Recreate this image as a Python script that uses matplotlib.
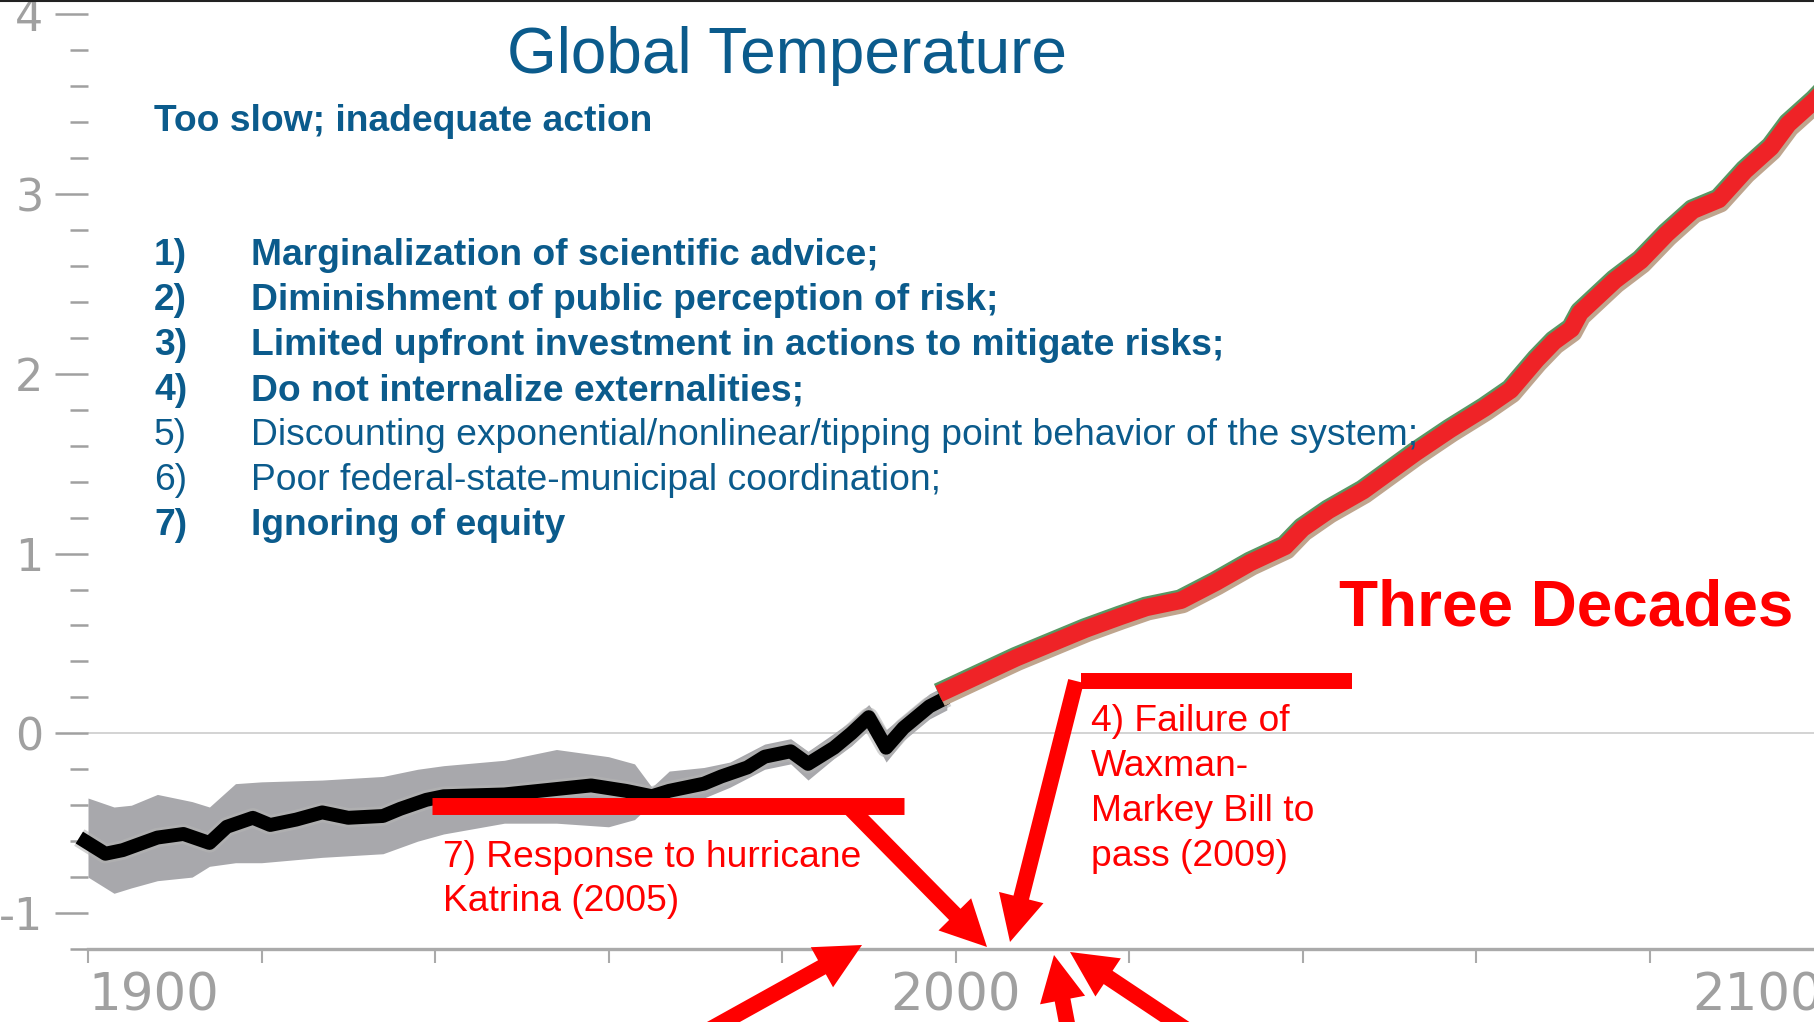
import matplotlib
matplotlib.use("Agg")
import matplotlib.pyplot as plt
import matplotlib.patheffects as pe
from matplotlib.patches import FancyArrowPatch
from matplotlib.lines import Line2D
from matplotlib.ticker import MultipleLocator

W, H = 1815, 1022

# observed global temperature (black curve)
hist_years = [1899, 1902, 1904, 1908, 1911, 1914, 1916, 1919, 1921, 1924, 1927,
              1930, 1934, 1936, 1939, 1941, 1948, 1952, 1958, 1962, 1965, 1967,
              1971, 1973, 1976, 1978, 1981, 1983, 1986, 1988, 1990, 1992, 1994,
              1997, 1999]
hist_temp = [-0.58, -0.67, -0.65, -0.58, -0.56, -0.61, -0.52, -0.47, -0.51, -0.48,
             -0.44, -0.47, -0.46, -0.42, -0.37, -0.35, -0.34, -0.32, -0.29, -0.32,
             -0.35, -0.32, -0.28, -0.24, -0.19, -0.13, -0.10, -0.17, -0.08, 0.00,
             0.09, -0.08, 0.03, 0.15, 0.20]

# grey uncertainty band
band_years = [1900, 1903, 1905, 1908, 1912, 1914, 1917, 1920, 1927, 1934, 1938,
              1941, 1948, 1954, 1960, 1963, 1965, 1967, 1971, 1974, 1978, 1981,
              1983, 1986, 1988, 1990, 1992, 1994, 1997, 1999]
band_low = [-0.80, -0.89, -0.86, -0.82, -0.80, -0.74, -0.72, -0.72, -0.69, -0.67,
            -0.60, -0.56, -0.50, -0.50, -0.52, -0.48, -0.39, -0.40, -0.36, -0.30,
            -0.20, -0.17, -0.26, -0.14, -0.07, 0.02, -0.16, -0.04, 0.08, 0.13]
band_high = [-0.36, -0.41, -0.40, -0.34, -0.38, -0.41, -0.28, -0.27, -0.26, -0.24,
             -0.20, -0.18, -0.15, -0.09, -0.13, -0.17, -0.30, -0.21, -0.19, -0.16,
             -0.06, -0.03, -0.10, 0.00, 0.07, 0.16, 0.02, 0.10, 0.22, 0.27]

# projection (red curve)
proj_years = [1999, 2003, 2007, 2011, 2015, 2019, 2022, 2026, 2030, 2034, 2038,
              2040, 2043, 2047, 2049, 2053, 2057, 2061, 2064, 2067, 2069, 2071,
              2072, 2076, 2079, 2082, 2085, 2088, 2091, 2094, 2096, 2099, 2101]
proj_temp = [0.24, 0.33, 0.42, 0.50, 0.58, 0.65, 0.70, 0.74, 0.84, 0.95, 1.04,
             1.14, 1.24, 1.35, 1.42, 1.56, 1.69, 1.81, 1.91, 2.08, 2.18, 2.25,
             2.34, 2.52, 2.63, 2.78, 2.91, 2.97, 3.13, 3.26, 3.39, 3.52, 3.62]

x_ticks = [1900, 1920, 1940, 1960, 1980, 2000, 2020, 2040, 2060, 2080, 2100]
x_labels = ["1900", "", "", "", "", "2000", "", "", "", "", "2100"]

title = "Global Temperature"
subtitle = "Too slow; inadequate action"
items = [
    ("1)", "Marginalization of scientific advice;", True),
    ("2)", "Diminishment of public perception of risk;", True),
    ("3)", "Limited upfront investment in actions to mitigate risks;", True),
    ("4)", "Do not internalize externalities;", True),
    ("5)", "Discounting exponential/nonlinear/tipping point behavior of the system;", False),
    ("6)", "Poor federal-state-municipal coordination;", False),
    ("7)", "Ignoring of equity", True),
]
note_waxman = ["4) Failure of", "Waxman-", "Markey Bill to", "pass (2009)"]
note_katrina = ["7) Response to hurricane", "Katrina (2005)"]

BLUE = "#0b5b8c"
RED = "#ff0000"
FONT = "Liberation Sans"
TXT = 26.8

plt.rcParams["axes.unicode_minus"] = False


def fpx(x, y):
    # pixel position measured from the top-left corner -> figure fraction
    return (x / W, 1 - y / H)


fig = plt.figure(figsize=(W / 100, H / 100), dpi=100)
ax = fig.add_axes([88 / W, 73 / H, (1823 - 88) / W, 949 / H])
ax.set_xlim(1900, 2100)
ax.set_ylim(-1.2, 4.08)

for side in ["left", "top", "right"]:
    ax.spines[side].set_visible(False)
ax.spines["bottom"].set_color("#aaaaaa")
ax.spines["bottom"].set_linewidth(2.4)

ax.yaxis.set_major_locator(MultipleLocator(1))
ax.yaxis.set_minor_locator(MultipleLocator(0.2))
ax.tick_params(axis="y", which="major", length=24, width=1.8, color="#a0a0a0",
               labelsize=32, labelcolor="#a0a0a0", pad=8)
ax.tick_params(axis="y", which="minor", length=13, width=1.8, color="#a0a0a0")
ax.set_xticks(x_ticks, labels=x_labels)
ax.tick_params(axis="x", which="major", length=10, width=1.5, color="#aaaaaa",
               labelsize=37, labelcolor="#a0a0a0", pad=6)
for lbl in ax.get_xticklabels():
    if lbl.get_text() == "1900":
        lbl.set_horizontalalignment("left")
    elif lbl.get_text() == "2100":
        lbl.set_horizontalalignment("right")

ax.axhline(0, color="#d0d0d0", lw=1.3, zorder=0.5)

ax.fill_between(band_years, band_low, band_high, color="#a8a8ac", lw=0, zorder=1)
ax.plot(hist_years, hist_temp, color="black", lw=10, solid_joinstyle="round",
        solid_capstyle="butt", zorder=3, clip_on=False,
        path_effects=[pe.Stroke(linewidth=14, foreground="#b4b4b4", alpha=0.6),
                      pe.Normal()])
ax.plot(proj_years, proj_temp, color="#ef2327", lw=12.5, zorder=4,
        path_effects=[pe.SimpleLineShadow(offset=(1.5, -3), shadow_color="#bfa58e", alpha=1),
                      pe.SimpleLineShadow(offset=(-1, 1.5), shadow_color="#2f7d3c", alpha=0.8),
                      pe.Normal()])

# texts
fig.text(*fpx(787, 73), title, ha="center", va="baseline", color=BLUE,
         fontsize=46, family=FONT)
fig.text(*fpx(154, 131), subtitle, ha="left", va="baseline", color=BLUE,
         fontsize=TXT, fontweight="bold", family=FONT)
for i, (num, txt, bold) in enumerate(items):
    y = 265 + i * 45
    w = "bold" if bold else "normal"
    fig.text(*fpx(154, y), num, ha="left", va="baseline", color=BLUE,
             fontsize=TXT, fontweight=w, family=FONT)
    fig.text(*fpx(251, y), txt, ha="left", va="baseline", color=BLUE,
             fontsize=TXT, fontweight=w, family=FONT)

fig.text(*fpx(1339, 625), "Three Decades", ha="left", va="baseline", color=RED,
         fontsize=46, fontweight="bold", family=FONT)
for i, line in enumerate(note_waxman):
    fig.text(*fpx(1091, 731 + i * 45), line, ha="left", va="baseline", color=RED,
             fontsize=TXT, family=FONT)
for i, line in enumerate(note_katrina):
    fig.text(*fpx(443, 867 + i * 44), line, ha="left", va="baseline", color=RED,
             fontsize=TXT, family=FONT)

# red bars and arrows
for (x0, y0), (x1, y1), lw in [((432, 806), (904, 806), 12.2),
                               ((1081, 681), (1352, 681), 11.5)]:
    a, b = fpx(x0, y0), fpx(x1, y1)
    fig.add_artist(Line2D([a[0], b[0]], [a[1], b[1]], color=RED, lw=lw,
                          solid_capstyle="butt", transform=fig.transFigure))

arrow_style = "simple,head_length=3.3,head_width=3.3,tail_width=1.15"
for start, end in [((850, 808), (987, 947)),
                   ((1076, 681), (1010, 942)),
                   ((655, 1060), (862, 945)),
                   ((1074, 1060), (1054, 955)),
                   ((1232, 1060), (1070, 952))]:
    fig.add_artist(FancyArrowPatch(fpx(*start), fpx(*end), arrowstyle=arrow_style,
                                   mutation_scale=10, color=RED, lw=0,
                                   shrinkA=0, shrinkB=0, transform=fig.transFigure))

fig.add_artist(Line2D([0, 1], [1 - 1 / H, 1 - 1 / H], color="#222222", lw=1.5,
                      transform=fig.transFigure))

fig.savefig("out.png", dpi=100)
